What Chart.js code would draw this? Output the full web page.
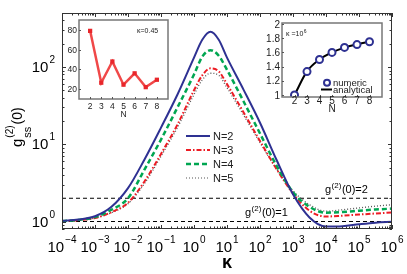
<!DOCTYPE html>
<html>
<head>
<meta charset="utf-8">
<script src="https://cdn.jsdelivr.net/npm/chart.js@4.4.0/dist/chart.umd.min.js"></script>
<style>
html,body{margin:0;padding:0;background:#fff;}
#wrap{position:relative;width:407px;height:274px;overflow:hidden;}
#wrap canvas{position:absolute;}
</style>
</head>
<body>
<div id="wrap">
  <canvas id="main" width="407" height="274" style="left:0;top:0"></canvas>
  <canvas id="insetL" width="110" height="108" style="left:64px;top:14px"></canvas>
  <canvas id="insetR" width="130" height="104" style="left:258px;top:14px"></canvas>
</div>
<script>
// main panel: g_ss^(2)(0) vs kappa for N = 2..5
const kappa = [1e-4, 3.16e-4, 1e-3, 3.16e-3, 1e-2, 3.16e-2, 0.1, 0.316, 1, 1.78, 3.16, 5.62, 10, 31.6, 100, 316, 1000, 3160, 1e4, 3.16e4, 1e5, 3.16e5, 1e6];
const gN2 = [1.02, 1.06, 1.17, 1.55, 2.7, 6.35, 16.4, 44, 132, 225, 285, 225, 132, 51, 19, 6.3, 2.25, 1.13, 0.86, 0.87, 0.92, 0.965, 0.99];
const gN3 = [1.01, 1.04, 1.11, 1.32, 1.75, 3.3, 7.5, 18, 50, 78, 96, 88, 60, 26, 11, 4.8, 2.3, 1.38, 1.16, 1.19, 1.23, 1.27, 1.31];
const gN4 = [1.01, 1.05, 1.14, 1.42, 2.0, 4.7, 11.5, 30, 80, 136, 165, 140, 92, 36, 13.8, 5.3, 2.4, 1.55, 1.3, 1.33, 1.38, 1.43, 1.47];
const gN5 = [1.01, 1.04, 1.11, 1.30, 1.7, 3.1, 7.0, 16.5, 44, 68, 83, 78, 54, 24, 10.5, 4.8, 2.5, 1.65, 1.36, 1.42, 1.5, 1.58, 1.65];
const refLevels = [1, 2];
const xDecades = [-4, -3, -2, -1, 0, 1, 2, 3, 4, 5, 6];
const yDecades = [0, 1, 2];

// insets
const insetN = [2, 3, 4, 5, 6, 7, 8];
const gAt045 = [79, 26.5, 48, 24.5, 36, 22, 29.5];
const gNumeric = [1.0, 1.33, 1.5, 1.6, 1.67, 1.71, 1.75];
const gAnalytic = [1.0, 1.333, 1.5, 1.6, 1.667, 1.714, 1.75];
const insetLTicks = [20, 40, 60, 80];
const insetRTicks = [1, 1.2, 1.4, 1.6, 1.8, 2];

const FONT = '"Liberation Sans", Arial, sans-serif';
const BLUE = '#2e3192', RED = '#ed1c24', GREEN = '#00a651', GREY = '#555';

const pts = (xs, ys) => xs.map((v, i) => ({x: v, y: ys[i]}));
const sup = n => String(n).replace('-', '\u2212');

function powLabel(ctx, exp, x, base, align) {
  ctx.font = '15px ' + FONT;
  const w1 = ctx.measureText('10').width;
  ctx.font = '10px ' + FONT;
  const w2 = ctx.measureText(exp).width;
  const total = w1 + 1 + w2;
  const x0 = align === 'center' ? x - total / 2 : x - total;
  ctx.textAlign = 'left';
  ctx.font = '15px ' + FONT;
  ctx.fillText('10', x0, base);
  ctx.font = '10px ' + FONT;
  ctx.fillText(exp, x0 + w1 + 1, base - 9);
}

// g^(2)(0)=.. style text, left aligned
function gText(ctx, x, base, tail, size) {
  ctx.textAlign = 'left';
  ctx.font = size + 'px ' + FONT;
  ctx.fillText('g', x, base);
  let cx = x + ctx.measureText('g').width + 0.5;
  ctx.font = Math.round(size * 0.72) + 'px ' + FONT;
  ctx.fillText('(2)', cx, base - size * 0.45);
  cx += ctx.measureText('(2)').width + 0.5;
  ctx.font = size + 'px ' + FONT;
  ctx.fillText(tail, cx, base);
}

const mainAxes = {
  id: 'mainAxes',
  afterDraw(chart) {
    const {ctx, chartArea: a, scales: {x, y}} = chart;
    ctx.save();
    ctx.strokeStyle = '#333';
    ctx.lineWidth = 1;
    ctx.strokeRect(a.left + 0.5, a.top + 0.5, a.right - a.left - 1, a.bottom - a.top - 1);
    ctx.beginPath();
    // x ticks (inward, bottom + top)
    for (let d = -4; d <= 6; d++) {
      for (let m = 1; m <= 9; m++) {
        const v = m * Math.pow(10, d);
        if (v < 1e-4 || v > 1e6) continue;
        const px = Math.round(x.getPixelForValue(v)) + 0.5;
        const len = m === 1 ? 4 : 2.5;
        ctx.moveTo(px, a.bottom); ctx.lineTo(px, a.bottom - len);
        ctx.moveTo(px, a.top); ctx.lineTo(px, a.top + len);
      }
    }
    // y ticks (inward, left + right)
    for (let d = -1; d <= 2; d++) {
      for (let m = 1; m <= 9; m++) {
        const v = m * Math.pow(10, d);
        if (v < 0.8 || v > 500) continue;
        const py = Math.round(y.getPixelForValue(v)) + 0.5;
        const len = m === 1 ? 4 : 2.5;
        ctx.moveTo(a.left, py); ctx.lineTo(a.left + len, py);
        ctx.moveTo(a.right, py); ctx.lineTo(a.right - len, py);
      }
    }
    ctx.stroke();

    ctx.fillStyle = '#000';
    xDecades.forEach(d => powLabel(ctx, sup(d), x.getPixelForValue(Math.pow(10, d)), 252, 'center'));
    yDecades.forEach(d => powLabel(ctx, sup(d), 55, y.getPixelForValue(Math.pow(10, d)) + 5, 'right'));

    // x title
    ctx.font = 'bold 18px ' + FONT;
    ctx.textAlign = 'center';
    ctx.fillText('\u03ba', (a.left + a.right) / 2, 268);

    // y title, rotated
    ctx.save();
    ctx.translate(22, 147);
    ctx.rotate(-Math.PI / 2);
    ctx.textAlign = 'left';
    ctx.font = '15px ' + FONT;
    ctx.fillText('g', 0, 0);
    let tx = ctx.measureText('g').width + 1;
    ctx.font = '10px ' + FONT;
    ctx.fillText('(2)', tx, -9);
    const w2 = ctx.measureText('(2)').width;
    ctx.font = '11px ' + FONT;
    ctx.fillText('ss', tx, 9);
    tx += Math.max(w2, ctx.measureText('ss').width) + 1;
    ctx.font = '14px ' + FONT;
    ctx.fillText('(0)', tx, 0);
    ctx.restore();

    // reference level labels
    gText(ctx, 325, y.getPixelForValue(2) - 5, '(0)=2', 11);
    gText(ctx, 245, y.getPixelForValue(1) - 6, '(0)=1', 11);

    // legend
    const items = [
      {label: 'N=2', color: BLUE, dash: [], w: 2},
      {label: 'N=3', color: RED, dash: [5, 2, 1.5, 2], w: 2},
      {label: 'N=4', color: GREEN, dash: [5, 3], w: 2.5},
      {label: 'N=5', color: GREY, dash: [1, 2], w: 1.2}
    ];
    items.forEach((it, i) => {
      const ly = 136 + i * 14;
      ctx.beginPath();
      ctx.strokeStyle = it.color;
      ctx.lineWidth = it.w;
      ctx.setLineDash(it.dash);
      ctx.moveTo(186, ly); ctx.lineTo(210, ly);
      ctx.stroke();
      ctx.setLineDash([]);
      ctx.fillStyle = '#222';
      ctx.font = '11px ' + FONT;
      ctx.textAlign = 'left';
      ctx.fillText(it.label, 213, ly + 4);
    });
    ctx.restore();
  }
};

const refSets = refLevels.map(v => ({
  data: [{x: 1e-4, y: v}, {x: 1e6, y: v}],
  borderColor: '#000', borderWidth: 1, borderDash: [4, 3], order: 5
}));

new Chart(document.getElementById('main'), {
  type: 'line',
  data: {
    datasets: [
      {data: pts(kappa, gN5), borderColor: GREY, borderWidth: 1.3, borderDash: [1, 2], order: 4},
      {data: pts(kappa, gN3), borderColor: RED, borderWidth: 2, borderDash: [5, 2, 1.5, 2], order: 3},
      {data: pts(kappa, gN4), borderColor: GREEN, borderWidth: 2.5, borderDash: [5, 3], order: 2},
      {data: pts(kappa, gN2), borderColor: BLUE, borderWidth: 2, order: 1},
      ...refSets
    ]
  },
  options: {
    responsive: false, animation: false, devicePixelRatio: 1,
    layout: {padding: {left: 62, right: 15, top: 13, bottom: 45}},
    plugins: {legend: {display: false}, tooltip: {enabled: false}},
    elements: {point: {radius: 0}, line: {cubicInterpolationMode: 'monotone', fill: false}},
    scales: {
      x: {type: 'logarithmic', min: 1e-4, max: 1e6, display: false},
      y: {type: 'logarithmic', min: 0.8, max: 500, display: false}
    }
  },
  plugins: [mainAxes]
});

// shared inset frame: white box, border, small ticks, tick labels
function insetFrame(o) {
  return {
    id: 'frame' + o.key,
    beforeDraw(chart) {
      const {ctx, chartArea: a} = chart;
      ctx.save();
      ctx.fillStyle = '#fff';
      ctx.fillRect(a.left, a.top, a.right - a.left, a.bottom - a.top);
      ctx.restore();
    },
    afterDraw(chart) {
      const {ctx, chartArea: a, scales: {x, y}} = chart;
      ctx.save();
      ctx.strokeStyle = '#777';
      ctx.lineWidth = 1.5;
      ctx.strokeRect(a.left, a.top, a.right - a.left, a.bottom - a.top);
      ctx.strokeStyle = '#555';
      ctx.lineWidth = 1;
      ctx.beginPath();
      o.yTicks.forEach(v => {
        const py = Math.round(y.getPixelForValue(v)) + 0.5;
        ctx.moveTo(a.left, py); ctx.lineTo(a.left + 2, py);
      });
      insetN.forEach(v => {
        const px = Math.round(x.getPixelForValue(v)) + 0.5;
        ctx.moveTo(px, a.bottom); ctx.lineTo(px, a.bottom - 2);
      });
      ctx.stroke();
      ctx.fillStyle = '#222';
      ctx.font = o.font + 'px ' + FONT;
      ctx.textAlign = 'right';
      o.yTicks.forEach(v => ctx.fillText(o.fmt(v), a.left - 2, y.getPixelForValue(v) + o.font * 0.36));
      ctx.textAlign = 'center';
      insetN.forEach(v => ctx.fillText(String(v), x.getPixelForValue(v), a.bottom + o.xLabelDy));
      ctx.fillText('N', x.getPixelForValue(5), a.bottom + o.xLabelDy + 7.5);
      o.extra(ctx, a, x, y);
      ctx.restore();
    }
  };
}

new Chart(document.getElementById('insetL'), {
  type: 'line',
  data: {
    datasets: [{
      data: pts(insetN, gAt045),
      borderColor: '#f04848', borderWidth: 2.5,
      pointStyle: 'rect', pointRadius: 3, pointBackgroundColor: '#e8262b', pointBorderWidth: 0,
      tension: 0
    }]
  },
  options: {
    responsive: false, animation: false, devicePixelRatio: 1,
    layout: {padding: {left: 15, right: 6, top: 6, bottom: 23}},
    plugins: {legend: {display: false}, tooltip: {enabled: false}},
    scales: {
      x: {type: 'linear', min: 1, max: 9, display: false},
      y: {type: 'linear', min: 10, max: 90, display: false}
    }
  },
  plugins: [insetFrame({
    key: 'L', yTicks: insetLTicks, font: 8.5, xLabelDy: 10, fmt: v => String(v),
    extra(ctx, a) {
      ctx.font = '7px ' + FONT;
      ctx.textAlign = 'left';
      ctx.fillStyle = '#222';
      ctx.fillText('\u03ba=0.45', a.right - 31, a.top + 13);
    }
  })]
});

new Chart(document.getElementById('insetR'), {
  type: 'line',
  data: {
    datasets: [
      {data: pts(insetN, gNumeric), showLine: false, pointStyle: 'circle', pointRadius: 3.5,
       pointBorderColor: BLUE, pointBackgroundColor: '#fff', pointBorderWidth: 2, order: 1},
      {data: pts(insetN, gAnalytic), borderColor: '#000', borderWidth: 2, pointRadius: 0,
       cubicInterpolationMode: 'monotone', order: 2}
    ]
  },
  options: {
    responsive: false, animation: false, devicePixelRatio: 1,
    layout: {padding: {left: 24, right: 6, top: 9, bottom: 21}},
    plugins: {legend: {display: false}, tooltip: {enabled: false}},
    scales: {
      x: {type: 'linear', min: 1, max: 9, display: false},
      y: {type: 'linear', min: 0.972, max: 2.014, display: false}
    }
  },
  plugins: [insetFrame({
    key: 'R', yTicks: insetRTicks, font: 10, xLabelDy: 7, fmt: v => v === 1 || v === 2 ? String(v) : v.toFixed(1),
    extra(ctx, a) {
      ctx.fillStyle = '#222';
      ctx.textAlign = 'left';
      ctx.font = '7px ' + FONT;
      ctx.fillText('\u03ba =10', a.left + 4, a.top + 13);
      const w = ctx.measureText('\u03ba =10').width;
      ctx.font = '5px ' + FONT;
      ctx.fillText('6', a.left + 4 + w + 0.5, a.top + 10);
      // legend
      ctx.beginPath();
      ctx.strokeStyle = BLUE; ctx.lineWidth = 2;
      ctx.arc(69, 68.7, 3, 0, Math.PI * 2);
      ctx.stroke();
      ctx.beginPath();
      ctx.strokeStyle = '#000'; ctx.lineWidth = 2;
      ctx.moveTo(63, 75.5); ctx.lineTo(74, 75.5);
      ctx.stroke();
      ctx.font = '9.5px ' + FONT;
      ctx.fillStyle = '#222';
      ctx.fillText('numeric', 75, 71.5);
      ctx.fillText('analytical', 75, 78.5);
    }
  })]
});
</script>
</body>
</html>
